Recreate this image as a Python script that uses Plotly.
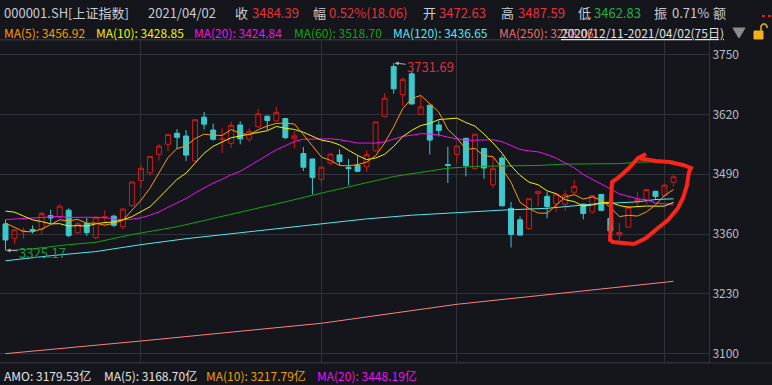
import numpy as np
import plotly.graph_objects as go

# ---------------- data ----------------
dates = ["2020-12-11","2020-12-14","2020-12-15","2020-12-16","2020-12-17","2020-12-18","2020-12-21","2020-12-22","2020-12-23","2020-12-24",
         "2020-12-25","2020-12-28","2020-12-29","2020-12-30","2020-12-31","2021-01-04","2021-01-05","2021-01-06","2021-01-07","2021-01-08",
         "2021-01-11","2021-01-12","2021-01-13","2021-01-14","2021-01-15","2021-01-18","2021-01-19","2021-01-20","2021-01-21","2021-01-22",
         "2021-01-25","2021-01-26","2021-01-27","2021-01-28","2021-01-29","2021-02-01","2021-02-02","2021-02-03","2021-02-04","2021-02-05",
         "2021-02-08","2021-02-09","2021-02-10","2021-02-18","2021-02-19","2021-02-22","2021-02-23","2021-02-24","2021-02-25","2021-02-26",
         "2021-03-01","2021-03-02","2021-03-03","2021-03-04","2021-03-05","2021-03-08","2021-03-09","2021-03-10","2021-03-11","2021-03-12",
         "2021-03-15","2021-03-16","2021-03-17","2021-03-18","2021-03-19","2021-03-22","2021-03-23","2021-03-24","2021-03-25","2021-03-26",
         "2021-03-29","2021-03-30","2021-03-31","2021-04-01","2021-04-02"]

opens = [3382, 3351, 3365, 3370, 3370, 3400, 3398, 3412, 3363, 3383,
         3352, 3395, 3399, 3376, 3422, 3476, 3493, 3533, 3555, 3579,
         3573, 3519, 3614, 3586, 3566, 3557, 3597, 3566, 3593, 3616,
         3606, 3611, 3568, 3535, 3523, 3479, 3514, 3532, 3505, 3510,
         3506, 3541, 3615, 3724, 3663, 3708, 3620, 3640, 3597, 3511,
         3533, 3568, 3502, 3546, 3467, 3525, 3416, 3391, 3372, 3448,
         3442, 3426, 3425, 3451, 3425, 3408, 3446, 3394, 3358, 3375,
         3430, 3434, 3453, 3444, 3472.63]
highs = [3391, 3370, 3375, 3379, 3408, 3413, 3425, 3416, 3387, 3395,
         3399, 3412, 3402, 3415, 3474, 3511, 3530, 3556, 3577, 3588,
         3586, 3609, 3625, 3600, 3590, 3604, 3605, 3590, 3632, 3618,
         3637, 3612, 3584, 3549, 3524, 3505.5, 3536, 3544, 3523, 3530,
         3542, 3604, 3666, 3731.69, 3700, 3713, 3660, 3641, 3607, 3550,
         3552, 3569, 3578, 3547, 3527, 3531, 3430, 3398, 3437, 3454,
         3451, 3447, 3455, 3478, 3426, 3445, 3447, 3413, 3384, 3422,
         3452, 3457, 3454, 3467, 3487.59]
lows = [3325.17, 3339, 3350, 3361, 3358, 3383, 3393, 3353, 3361, 3356,
        3348, 3380, 3375, 3370, 3419, 3460, 3487, 3520, 3540, 3545,
        3519, 3516, 3587, 3563, 3536, 3547, 3555, 3560, 3591, 3586,
        3604, 3566, 3546, 3497, 3446, 3471, 3510, 3510, 3466, 3495,
        3495, 3539, 3614, 3665, 3638, 3642, 3619, 3533, 3572, 3471,
        3515, 3485, 3500, 3480, 3460, 3420, 3331, 3357, 3369, 3420,
        3394, 3408, 3410, 3447, 3392, 3404, 3410, 3366, 3346, 3375,
        3419, 3426, 3434, 3440, 3462.83]
closes = [3347.19, 3369.12, 3367.23, 3366.98, 3404.87, 3394.90, 3420.57, 3356.78, 3382.32, 3363.11,
          3396.56, 3397.29, 3379.04, 3414.45, 3473.07, 3502.96, 3528.68, 3550.88, 3576.20, 3570.11,
          3531.50, 3608.34, 3598.65, 3565.90, 3566.38, 3596.22, 3566.65, 3583.09, 3621.26, 3606.75,
          3624.24, 3569.43, 3573.34, 3505.18, 3483.07, 3505.28, 3533.68, 3517.31, 3501.86, 3496.33,
          3532.44, 3603.49, 3655.09, 3675.36, 3696.17, 3642.44, 3636.36, 3564.08, 3585.05, 3509.08,
          3551.40, 3508.59, 3576.90, 3503.49, 3501.99, 3421.41, 3359.29, 3357.74, 3436.83, 3453.08,
          3419.95, 3446.73, 3445.55, 3463.07, 3404.66, 3443.44, 3411.51, 3367.06, 3363.59, 3418.33,
          3435.30, 3456.68, 3441.91, 3466.33, 3484.39]
# closes of the 19 sessions before the window (feed the MA5/10/20 lines at the left edge)
prev_closes = [3346.97, 3339.90, 3347.30, 3363.09, 3377.73, 3414.49, 3402.82, 3362.33, 3369.73, 3408.31,
               3391.76, 3451.94, 3449.38, 3442.14, 3444.58, 3416.60, 3410.18, 3371.96, 3373.28]

# long moving averages (session index, value)
ma60_idx = [0, 3, 7, 10, 14, 19, 23, 28, 31, 35, 39, 43, 46, 49, 52, 56, 59, 62, 68, 70, 74]
ma60_val = [3324, 3328, 3337, 3342, 3359, 3376, 3394, 3416, 3430, 3449, 3467, 3485, 3494, 3503, 3507, 3508.5, 3509, 3512, 3513, 3516, 3518.70]
ma120_idx = [0, 5, 10, 15, 20, 25, 30, 35, 40, 45, 50, 55, 60, 65, 70, 72, 74]
ma120_val = [3302, 3313, 3322, 3337, 3350, 3361, 3371, 3383, 3393, 3401, 3407, 3412, 3416, 3425, 3430, 3435, 3436.65]
ma250_idx = [0, 15, 35, 50, 73, 74]
ma250_val = [3100.3, 3127.8, 3166.3, 3207.5, 3255.3, 3257.5]

price_ticks = [3100, 3230, 3360, 3490, 3620, 3750]
month_start_idx = [15, 35, 50, 73]

# ---------------- derived MA lines ----------------
allc = np.array(prev_closes + closes)
def ma(n):
    out = []
    off = len(prev_closes)
    for i in range(len(closes)):
        j = off + i
        out.append(allc[j - n + 1:j + 1].mean())
    return out
ma5, ma10, ma20 = ma(5), ma(10), ma(20)

# ---------------- style ----------------
BG = "#14161b"
GRID = "#2f3238"
RED = "#d41818"
CYAN = "#3cc8cc"
C_MA5 = "#ff9a00"
C_MA10 = "#f2f200"
C_MA20 = "#f010f0"
C_MA60 = "#14a314"
C_MA120 = "#55e6f0"
C_MA250 = "#ff7f7f"
LABEL = "#c8ccd4"
FONT = "Noto Sans CJK SC"

W, H = 772, 385
L, R, T, B = 0, 63, 40, 23
PW, PH = W - L - R, H - T - B

def px(x, y):
    return (x - L) / PW, (H - B - y) / PH

x = list(range(len(closes)))

fig = go.Figure()
fig.add_trace(go.Candlestick(
    x=x, open=opens, high=highs, low=lows, close=closes,
    increasing=dict(line=dict(color=RED, width=1), fillcolor="rgba(0,0,0,0)"),
    decreasing=dict(line=dict(color=CYAN, width=1), fillcolor=CYAN),
    whiskerwidth=0, hoverinfo="skip"))

for xs, ys, c in [(ma250_idx, ma250_val, C_MA250), (ma120_idx, ma120_val, C_MA120),
                  (ma60_idx, ma60_val, C_MA60), (x, ma20, C_MA20),
                  (x, ma10, C_MA10), (x, ma5, C_MA5)]:
    fig.add_trace(go.Scatter(x=xs, y=ys, mode="lines", line=dict(color=c, width=1),
                             hoverinfo="skip"))

ann = []
def txt(xp, yp, s, color, size=13, anchor="left"):
    ax_, ay_ = px(xp, yp)
    ann.append(dict(x=ax_, y=ay_, xref="paper", yref="paper", text=s, showarrow=False,
                    xanchor=anchor, yanchor="middle", font=dict(family=FONT, size=size, color=color)))

# header row 1
txt(2, 12, "000001.SH[上证指数]", LABEL)
txt(146, 12, "2021/04/02", LABEL)
txt(233, 12, "收", LABEL)
txt(250, 12, "3484.39", "#e8303a")
txt(311, 12, "幅", LABEL)
txt(327, 12, "0.52%(18.06)", "#e8303a")
txt(421, 12, "开", LABEL)
txt(437, 12, "3472.63", "#e8303a")
txt(499, 12, "高", LABEL)
txt(516, 12, "3487.59", "#e8303a")
txt(576, 12, "低", LABEL)
txt(592, 12, "3462.83", "#22b04a")
txt(652, 12, "振", LABEL)
txt(670, 12, "0.71%", LABEL)
txt(711, 12, "额", LABEL)

# header row 2
txt(2, 33, "MA(5): 3456.92", C_MA5, 12)
txt(94, 33, "MA(10): 3428.85", C_MA10, 12)
txt(192, 33, "MA(20): 3424.84", C_MA20, 12)
txt(292, 33, "MA(60): 3518.70", C_MA60, 12)
txt(391, 33, "MA(120): 3436.65", C_MA120, 12)
txt(497, 33, "MA(250): 3258.06", "#f06a6a", 12)
txt(559, 33, "<u>2020/12/11-2021/04/02(75日)</u>", "#e0e0e0", 12)

# bottom row
txt(2, 375, "AMO: 3179.53亿", "#e4e4e4", 12)
txt(102, 375, "MA(5): 3168.70亿", "#e4e4e4", 12)
txt(204, 375, "MA(10): 3217.79亿", "#f0a000", 12)
txt(315, 375, "MA(20): 3448.19亿", C_MA20, 12)

# high / low markers
ann.append(dict(x=43, y=3731.69, xref="x", yref="y", text="3731.69", showarrow=True,
                ax=37, ay=4, arrowcolor="#b0b0b0", arrowwidth=1, arrowhead=2, arrowsize=0.8,
                standoff=1, font=dict(family=FONT, size=13, color="#d83040")))
ann.append(dict(x=0, y=3325.17, xref="x", yref="y", text="3325.17", showarrow=True,
                ax=37, ay=2, arrowcolor="#b0b0b0", arrowwidth=1, arrowhead=2, arrowsize=0.8,
                standoff=1, font=dict(family=FONT, size=13, color="#1e9b3c")))

shapes = []
def line_px(x0, y0, x1, y1, color=GRID, width=1, dash=None):
    a, b = px(x0, y0); c, d = px(x1, y1)
    ln = dict(color=color, width=width)
    if dash:
        ln["dash"] = dash
    shapes.append(dict(type="line", xref="paper", yref="paper", x0=a, y0=b, x1=c, y1=d, line=ln))

def path_px(pts, close=False, color=None, width=1, fill=None):
    parts = []
    for k, (xx, yy) in enumerate(pts):
        a, b = px(xx, yy)
        parts.append(("M" if k == 0 else "L") + f"{a:.5f},{b:.5f}")
    p = " ".join(parts) + (" Z" if close else "")
    sh = dict(type="path", xref="paper", yref="paper", path=p,
              line=dict(color=color or "rgba(0,0,0,0)", width=width))
    if fill:
        sh["fillcolor"] = fill
    shapes.append(sh)

# header separator, bottom separator
line_px(0, 363, 772, 363)
line_px(0, 40, 709, 40)

# red dots top right
line_px(762, 16, 772, 16, color="#e02020", width=2, dash="dot")
# triangle
path_px([(733, 28), (745, 28), (739, 38)], close=True, color="#8c8c8c", width=1, fill="#8c8c8c")
# lock icon
path_px([(754, 31), (763, 31), (763, 39), (754, 39)], close=True, color="#f0b020", width=1, fill="#f0b020")
path_px([(761, 31), (761, 26), (763, 24), (765, 24), (767, 26), (767, 28)], color="#f0b020", width=1.5)

# hand-drawn red loop
loop = [(646, 154), (638, 158), (629, 168), (618, 178), (612, 182), (611, 200), (611, 222), (610, 240),
        (613, 242), (623, 243), (634, 244), (646, 238), (658, 228), (668, 220), (678, 208), (683, 198),
        (687, 185), (689, 172), (691, 168), (683, 165), (669, 162), (656, 161), (643, 159), (637, 158)]
path_px(loop, color="#ff2418", width=4)

fig.update_layout(
    width=W, height=H, margin=dict(l=L, r=R, t=T, b=B),
    paper_bgcolor=BG, plot_bgcolor=BG, showlegend=False, boxgap=0.22,
    annotations=ann, shapes=shapes,
    xaxis=dict(range=[-0.609, 77.93], tickvals=month_start_idx, showticklabels=False, ticks="",
               showgrid=True, gridcolor=GRID, gridwidth=1, zeroline=False,
               showline=True, linecolor=GRID, mirror=True, rangeslider=dict(visible=False),
               fixedrange=True),
    yaxis=dict(range=[3082.2, 3781.5], side="right", tickvals=price_ticks,
               ticktext=[str(v) for v in price_ticks], ticks="",
               tickfont=dict(family=FONT, size=12, color="#b8bcc4"),
               showgrid=True, gridcolor=GRID, gridwidth=1, zeroline=False,
               showline=True, linecolor=GRID, mirror=True, fixedrange=True),
)

fig.write_html("out.html", config={"displayModeBar": False},
               post_script="document.body.style.margin='0';document.body.style.background='%s';" % BG)
